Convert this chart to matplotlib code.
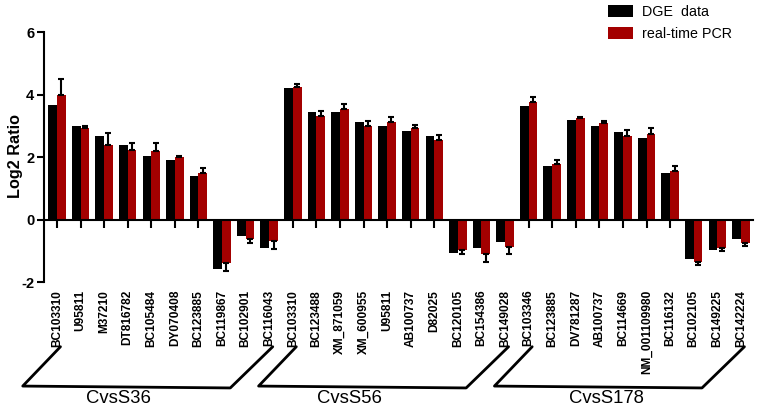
import matplotlib
matplotlib.use("Agg")
import matplotlib.pyplot as plt
import numpy as np
from matplotlib.patches import Patch

plt.rcParams['font.family'] = ['Liberation Sans', 'DejaVu Sans']

genes = ["BC103310", "U95811", "M37210", "DT816782", "BC105484", "DY070408",
         "BC123885", "BC119867", "BC102901", "BC116043",
         "BC103310", "BC123488", "XM_871059", "XM_600955", "U95811", "AB100737",
         "D82025", "BC120105", "BC154386", "BC149028",
         "BC103346", "BC123885", "DV781287", "AB100737", "BC114669", "NM_001109980",
         "BC116132", "BC102105", "BC149225", "BC142224"]
groups = ["CvsS36", "CvsS56", "CvsS178"]

dge = [3.67, 3.00, 2.68, 2.39, 2.03, 1.92, 1.40, -1.59, -0.52, -0.92,
       4.20, 3.45, 3.43, 3.11, 2.98, 2.85, 2.68, -1.08, -0.92, -0.73,
       3.62, 1.70, 3.19, 3.00, 2.81, 2.61, 1.49, -1.25, -0.98, -0.62]
pcr = [4.00, 2.92, 2.40, 2.24, 2.21, 2.00, 1.50, -1.40, -0.63, -0.70,
       4.26, 3.33, 3.53, 3.00, 3.11, 2.92, 2.56, -0.97, -1.11, -0.89,
       3.76, 1.78, 3.24, 3.08, 2.69, 2.74, 1.57, -1.36, -0.90, -0.74]
pcr_err = [0.50, 0.09, 0.37, 0.20, 0.23, 0.05, 0.14, 0.25, 0.12, 0.25,
           0.07, 0.15, 0.16, 0.14, 0.18, 0.11, 0.15, 0.14, 0.26, 0.21,
           0.18, 0.13, 0.04, 0.08, 0.17, 0.18, 0.14, 0.10, 0.12, 0.12]

black = "#000000"
red = "#A30000"

fig = plt.figure(figsize=(7.58, 4.07), dpi=100)
ax = fig.add_axes([0.058, 0.307, 0.935, 0.614])

x = np.arange(len(genes))
w = 0.37
ax.bar(x - w / 2, dge, w, color=black, zorder=2)
ax.bar(x + w / 2, pcr, w, color=red, zorder=2)
pcr_a = np.array(pcr)
err_a = np.array(pcr_err)
lower = np.where(pcr_a < 0, err_a, 0)
upper = np.where(pcr_a >= 0, err_a, 0)
ax.errorbar(x + w / 2, pcr, yerr=[lower, upper], fmt='none', ecolor='black',
            elinewidth=1.5, capsize=2.2, capthick=1.5, zorder=3)

ax.set_xlim(-0.55, 29.5)
ax.set_ylim(-2, 6)
ax.set_yticks([-2, 0, 2, 4, 6])
ax.set_yticklabels(["-2", "0", "2", "4", "6"], fontsize=10.5, fontweight='bold')
ax.tick_params(axis='y', pad=2)
ax.set_ylabel("Log2 Ratio", fontsize=11.7, fontweight='bold',
              ha='center', va='center', rotation_mode='default')
ax.yaxis.set_label_coords(-0.04, 0.504)

for s in ['top', 'right']:
    ax.spines[s].set_visible(False)
ax.spines['bottom'].set_position(('data', 0))
ax.spines['bottom'].set_linewidth(1.5)
ax.spines['left'].set_linewidth(1.5)
ax.spines['bottom'].set_zorder(4)
ax.tick_params(axis='y', direction='out', length=5, width=1.5)
ax.set_xticks(x)
ax.set_xticklabels([])
ax.tick_params(axis='x', direction='out', length=6, width=1.5)

for xi, g in zip(x, genes):
    ax.text(xi, -2.25, g, rotation=90, ha='center', va='top', fontsize=8.6,
            fontweight='bold', clip_on=False)

# group brackets
n = 10
y_top, y_bot = -4.07, -5.33
label_offsets = [2.6, 2.4, 3.3]
for gi, gname in enumerate(groups):
    first = gi * n
    last = first + n - 1
    xs = [first + 0.15, first - 1.45, last - 1.65, last + 0.15]
    ys = [y_top, y_bot, y_bot - 0.06, y_top]
    ax.plot(xs, ys, color='black', lw=2, clip_on=False, solid_capstyle='round')
    ax.text(first + label_offsets[gi], -5.88, gname, ha='center', va='baseline',
            fontsize=13.3, clip_on=False)

handles = [Patch(facecolor=black, label="DGE  data"),
           Patch(facecolor=red, label="real-time PCR")]
fig.legend(handles=handles, loc='upper left', bbox_to_anchor=(0.802, 0.988),
           frameon=False, fontsize=10.3, handlelength=1.75, handleheight=0.85,
           handletextpad=0.6, labelspacing=0.55, borderpad=0, borderaxespad=0)

fig.savefig("out.png", dpi=100)
